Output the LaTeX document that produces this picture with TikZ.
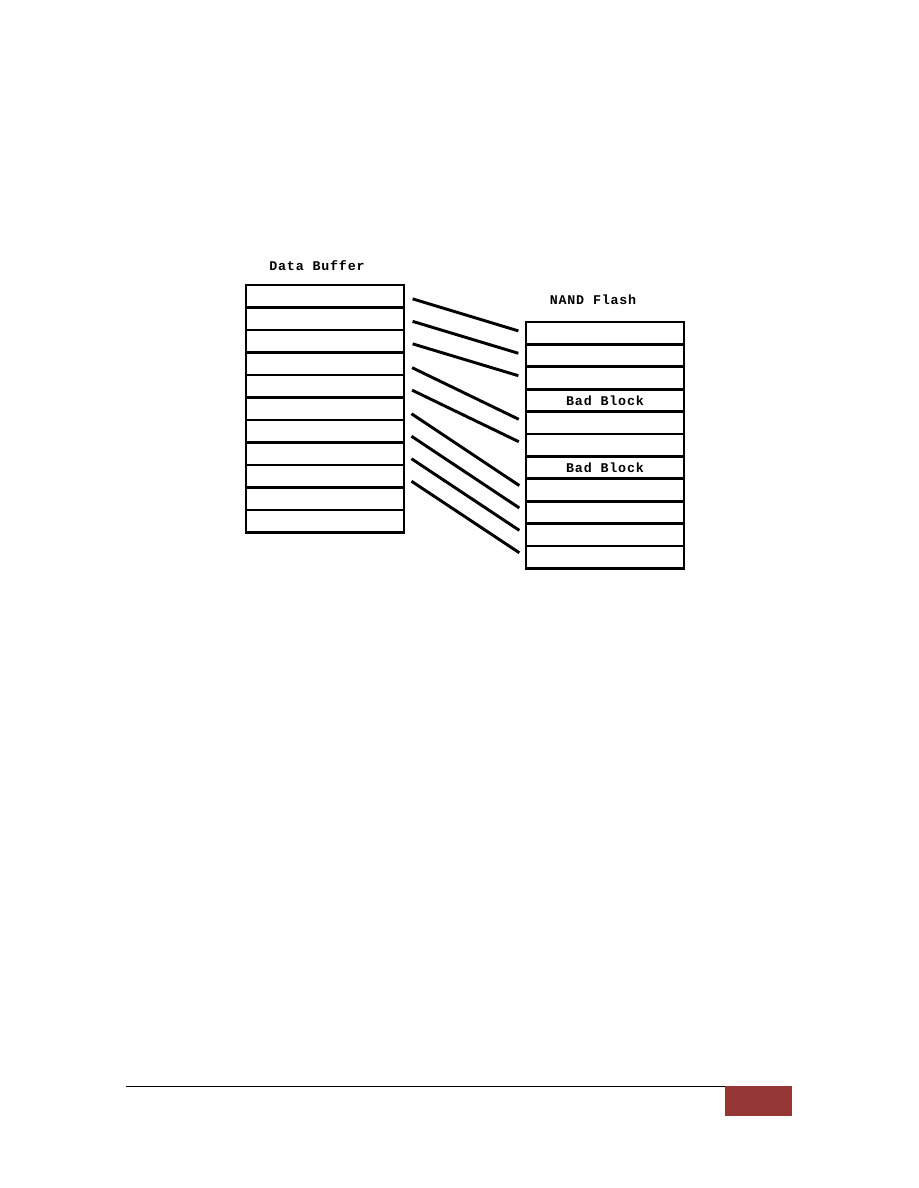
\documentclass[tikz,border=0pt]{standalone}
\usepackage{fontspec}
\usepackage{xcolor}
\newfontfamily\pixfont[LetterSpace=6]{Liberation Mono}
\definecolor{pagered}{HTML}{943634}

\begin{document}
\begin{tikzpicture}[x=0.75pt, y=-0.75pt,
		cell/.style={draw, rectangle, line width=2.2pt, inner sep=0pt, outer sep=0pt,
			minimum width=118.5pt, font=\pixfont\bfseries\fontsize{10}{12}\selectfont},
		bufcell/.style={cell, minimum height=16.9pt},
		flashcell/.style={cell, minimum height=16.8pt},
		title/.style={font=\pixfont\bfseries\fontsize{10}{12}\selectfont},
		link/.style={line width=2.2pt, shorten <=6.75pt, shorten >=6pt}]
			\useasboundingbox (0,0) rectangle (918,1188);
		
			\node[title] (buftitle) at (317,266) {Data Buffer};
			\node[title] (flashtitle) at (593,300) {NAND Flash};
		
			\node[bufcell] (b1) at (325,296.25) {};
			\node[bufcell] (b2) at (325,318.75) {};
			\node[bufcell] (b3) at (325,341.25) {};
			\node[bufcell] (b4) at (325,363.75) {};
			\node[bufcell] (b5) at (325,386.25) {};
			\node[bufcell] (b6) at (325,408.75) {};
			\node[bufcell] (b7) at (325,431.25) {};
			\node[bufcell] (b8) at (325,453.75) {};
			\node[bufcell] (b9) at (325,476.25) {};
			\node[bufcell] (b10) at (325,498.75) {};
			\node[bufcell] (b11) at (325,521.25) {};
		
			\node[flashcell] (f1) at (605,333.2) {};
			\node[flashcell] (f2) at (605,355.6) {};
			\node[flashcell] (f3) at (605,378.0) {};
			\node[flashcell] (f4) at (605,400.4) {Bad Block};
			\node[flashcell] (f5) at (605,422.8) {};
			\node[flashcell] (f6) at (605,445.2) {};
			\node[flashcell] (f7) at (605,467.6) {Bad Block};
			\node[flashcell] (f8) at (605,490.0) {};
			\node[flashcell] (f9) at (605,512.4) {};
			\node[flashcell] (f10) at (605,534.8) {};
			\node[flashcell] (f11) at (605,557.2) {};
		
			% good blocks only, the bad ones are skipped
			\draw[link] (b1.east) -- (f1.west);
			\draw[link] (b2.east) -- (f2.west);
			\draw[link] (b3.east) -- (f3.west);
			\draw[link] (b4.east) -- (f5.west);
			\draw[link] (b5.east) -- (f6.west);
			\draw[link] (b6.east) -- (f8.west);
			\draw[link] (b7.east) -- (f9.west);
			\draw[link] (b8.east) -- (f10.west);
			\draw[link] (b9.east) -- (f11.west);
		
			% page footer
			\draw[line width=0.75pt] (126,1086) -- (725,1086);
			\fill[pagered] (725,1086) rectangle (792,1116);
		\end{tikzpicture}
\end{document}
